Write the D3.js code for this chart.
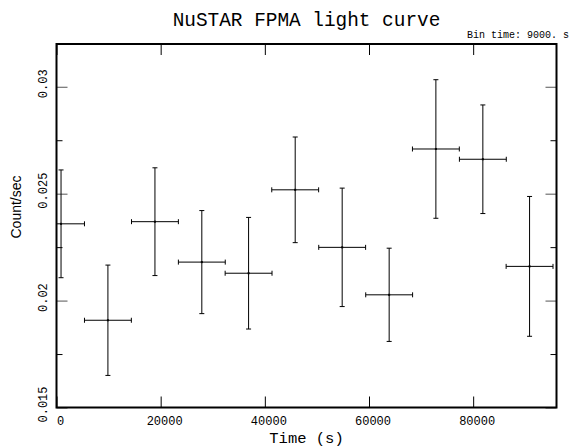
<!DOCTYPE html>
<html>
<head>
<meta charset="utf-8">
<script src="https://cdn.jsdelivr.net/npm/d3@7"></script>
<style>
  html, body { margin: 0; padding: 0; background: #fff; }
  svg { display: block; }
</style>
</head>
<body>
<svg id="chart" width="570" height="447"></svg>
<script>
// ---- data ----
const binTimes = [870, 9870, 18900, 27900, 36880, 45830, 54850, 63870, 72840, 81860, 90830];
const rates    = [0.02359, 0.01908, 0.02369, 0.02180, 0.02128, 0.02518, 0.02249, 0.02027, 0.02709, 0.02661, 0.02160];
const rateErrs = [0.00252, 0.00258, 0.00252, 0.00241, 0.00261, 0.00247, 0.00277, 0.00218, 0.00324, 0.00254, 0.00327];
const binHalfWidth = 4500;
const xTickValues = [0, 20000, 40000, 60000, 80000];
const xTickLabels = ["0", "20000", "40000", "60000", "80000"];
const yTickValues = [0.015, 0.02, 0.025, 0.03];
const yTickLabels = ["0.015", "0.02", "0.025", "0.03"];
const yMinorTicks = [0.0175, 0.0225, 0.0275];
const titleText = "NuSTAR FPMA light curve";
const binText = "Bin time: 9000. s";
const xLabel = "Time (s)";
const yLabel = "Count/sec";

// ---- layout ----
const L = 56.5, R = 556.5, T = 44, B = 407.5;
const mono = "'Liberation Mono', 'Courier New', monospace";
const sans = "'Liberation Sans', Arial, sans-serif";

const svg = d3.select("#chart");
const x = d3.scaleLinear().domain([0, 96000]).range([L, R]);
const y = d3.scaleLinear().domain([0.015, 0.032]).range([B, T]);

// clip
svg.append("defs").append("clipPath").attr("id", "clip")
  .append("rect").attr("x", L).attr("y", T).attr("width", R - L).attr("height", B - T);

// axes (ticks inward)
const fmtX = (d) => xTickLabels[xTickValues.indexOf(d)];
const gB = svg.append("g").attr("transform", `translate(0,${B})`)
  .call(d3.axisBottom(x).tickValues(xTickValues).tickSizeInner(-11).tickSizeOuter(0).tickPadding(9).tickFormat(fmtX));
gB.select(".domain").remove();
gB.selectAll("text").attr("font-family", mono).attr("font-size", 12).attr("fill", "#000").attr("dx", 3.5);
gB.selectAll("line").attr("stroke", "#000");

const gT = svg.append("g").attr("transform", `translate(0,${T})`)
  .call(d3.axisTop(x).tickValues(xTickValues).tickSizeInner(-11).tickSizeOuter(0).tickFormat(""));
gT.select(".domain").remove();
gT.selectAll("line").attr("stroke", "#000");

const gL = svg.append("g").attr("transform", `translate(${L},0)`)
  .call(d3.axisLeft(y).tickValues(yTickValues).tickSizeInner(-11).tickSizeOuter(0).tickFormat(""));
gL.select(".domain").remove();
gL.selectAll("line").attr("stroke", "#555");
const gLm = svg.append("g").attr("transform", `translate(${L},0)`)
  .call(d3.axisLeft(y).tickValues(yMinorTicks).tickSizeInner(-6).tickSizeOuter(0).tickFormat(""));
gLm.select(".domain").remove();
gLm.selectAll("line").attr("stroke", "#000");

const gR = svg.append("g").attr("transform", `translate(${R},0)`)
  .call(d3.axisRight(y).tickValues(yTickValues).tickSizeInner(-11).tickSizeOuter(0).tickFormat(""));
gR.select(".domain").remove();
gR.selectAll("line").attr("stroke", "#555");
const gRm = svg.append("g").attr("transform", `translate(${R},0)`)
  .call(d3.axisRight(y).tickValues(yMinorTicks).tickSizeInner(-6).tickSizeOuter(0).tickFormat(""));
gRm.select(".domain").remove();
gRm.selectAll("line").attr("stroke", "#000");

// y tick labels (rotated)
svg.append("g").selectAll("text").data(yTickValues).join("text")
  .attr("transform", d => `translate(46.5,${y(d) - 3}) rotate(-90)`)
  .attr("text-anchor", "middle")
  .attr("font-family", mono).attr("font-size", 12).attr("fill", "#000")
  .text((d, i) => yTickLabels[i]);

// error bars
const g = svg.append("g").attr("clip-path", "url(#clip)").attr("stroke", "#000").attr("stroke-width", 1).attr("fill", "none");
const pts = binTimes.map((t, i) => ({ t, v: rates[i], e: rateErrs[i] }));
const cap = 2.5;
pts.forEach(p => {
  const cx = x(p.t), cy = y(p.v);
  const x0 = x(p.t - binHalfWidth), x1 = x(p.t + binHalfWidth);
  const y0 = y(p.v - p.e), y1 = y(p.v + p.e);
  g.append("line").attr("x1", cx).attr("x2", cx).attr("y1", y1).attr("y2", y0);
  g.append("line").attr("x1", cx - cap).attr("x2", cx + cap).attr("y1", y1).attr("y2", y1);
  g.append("line").attr("x1", cx - cap).attr("x2", cx + cap).attr("y1", y0).attr("y2", y0);
  g.append("line").attr("x1", x0).attr("x2", x1).attr("y1", cy).attr("y2", cy);
  g.append("line").attr("x1", x0).attr("x2", x0).attr("y1", cy - cap).attr("y2", cy + cap);
  g.append("line").attr("x1", x1).attr("x2", x1).attr("y1", cy - cap).attr("y2", cy + cap);
  g.append("rect").attr("x", cx - 1).attr("y", cy - 1).attr("width", 2).attr("height", 2).attr("fill", "#000").attr("stroke", "none");
});

// frame
svg.append("rect").attr("x", L).attr("y", T).attr("width", R - L).attr("height", B - T)
  .attr("fill", "none").attr("stroke", "#000").attr("stroke-width", 2);

// texts
svg.append("text").attr("x", (L + R) / 2).attr("y", 26).attr("text-anchor", "middle")
  .attr("font-family", mono).attr("font-size", 19.4).attr("fill", "#000").text(titleText);
svg.append("text").attr("x", 569).attr("y", 38).attr("text-anchor", "end")
  .attr("font-family", mono).attr("font-size", 10).attr("fill", "#000").text(binText);
svg.append("text").attr("x", (L + R) / 2).attr("y", 443).attr("text-anchor", "middle")
  .attr("font-family", mono).attr("font-size", 15.5).attr("fill", "#000").text(xLabel);
svg.append("text").attr("transform", "translate(20.5,207) rotate(-90)").attr("text-anchor", "middle")
  .attr("font-family", sans).attr("font-size", 14).attr("fill", "#000").text(yLabel);
</script>
</body>
</html>
